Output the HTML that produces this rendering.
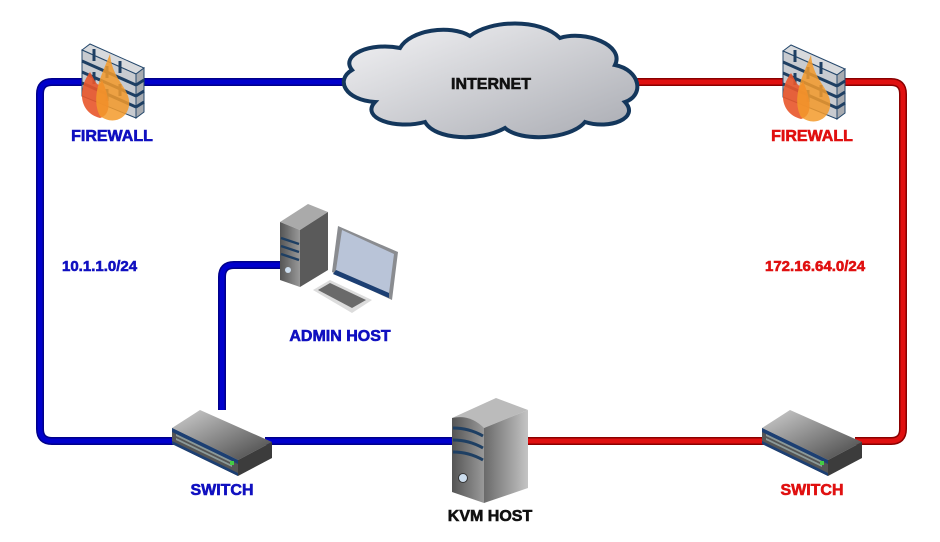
<!DOCTYPE html>
<html><head><meta charset="utf-8"><style>
html,body{margin:0;padding:0;background:#fff;}
svg{display:block;}
text{font-family:"Liberation Sans",sans-serif;font-weight:bold;stroke-width:0.6;}
</style></head><body>
<svg width="940" height="542" viewBox="0 0 940 542" xmlns="http://www.w3.org/2000/svg">
<defs>
<linearGradient id="cg" x1="0" y1="0" x2="1" y2="1"><stop offset="0" stop-color="#f4f4f6"/><stop offset="1" stop-color="#a9abb2"/></linearGradient>
<linearGradient id="sg" x1="0" y1="0" x2="1" y2="0"><stop offset="0" stop-color="#6a6a6a"/><stop offset="1" stop-color="#c4c4c4"/></linearGradient>
<linearGradient id="fg" x1="0" y1="0" x2="1" y2="0"><stop offset="0" stop-color="#555"/><stop offset="1" stop-color="#999"/></linearGradient>
<linearGradient id="tg" x1="0" y1="0" x2="1" y2="1"><stop offset="0" stop-color="#d0d0d0"/><stop offset="1" stop-color="#444"/></linearGradient>
<g id="fw">
  <polygon points="2,8 10,2 64,26 56,32" fill="#d8dadd" stroke="#24476b" stroke-width="1"/>
  <polygon points="2,8 56,32 56,76 2,54" fill="#c8cbd0" stroke="#24476b" stroke-width="1"/>
  <polygon points="56,32 64,26 64,70 56,76" fill="#a8abb0" stroke="#24476b" stroke-width="1"/>
  <g stroke="#1e3f63" stroke-width="3" fill="none">
    <path d="M2,19 L56,43"/><path d="M2,30 L56,54"/><path d="M2,41 L56,65"/>
    <path d="M14,7 v12 M40,19 v12 M27,24 v12 M14,30 v12 M40,42 v12 M27,47 v12"/>
    <path d="M56,43 l8,-5 M56,54 l8,-5 M56,65 l8,-5"/>
  </g>
  <path d="M10,30 C-2,46 -2,70 20,76 C34,72 28,52 22,38 C18,48 16,40 10,30Z" fill="#e8552a" opacity="0.9"/>
  <path d="M30,12 C22,32 10,55 20,74 C36,86 54,72 48,54 C44,42 32,34 30,12Z" fill="#f39a2a" opacity="0.85"/>
</g>
<g id="sw">
  <polygon points="0,18 28,0 100,32 66,50" fill="url(#tg)"/>
  <polygon points="0,18 66,50 66,66 0,34" fill="#555"/>
  <polygon points="0,18 66,50 66,54 0,22" fill="#1c3f73"/>
  <polygon points="0,31 66,63 66,66 0,34" fill="#1c3f73"/>
  <polygon points="66,50 100,32 100,48 66,66" fill="#3c3c3c"/>
  <g fill="#9aa" opacity="0.8">
    <path d="M4,24 l56,27 v2 l-56,-27Z M4,28 l56,27 v2 l-56,-27Z"/>
  </g>
  <rect x="58" y="51" width="4" height="4" fill="#4c4"/>
</g>
</defs>

<g fill="none" stroke-linejoin="round">
  <path d="M345,82 H52 Q40,82 40,94 V429 Q40,441 52,441 H175" stroke="#00008a" stroke-width="8"/>
  <path d="M345,82 H52 Q40,82 40,94 V429 Q40,441 52,441 H175" stroke="#0000cc" stroke-width="5"/>
  <path d="M265,441 H455" stroke="#00008a" stroke-width="8"/><path d="M265,441 H455" stroke="#0000cc" stroke-width="5"/>
  <path d="M222,410 V277 Q222,265 234,265 H282" stroke="#00008a" stroke-width="8"/>
  <path d="M222,410 V277 Q222,265 234,265 H282" stroke="#0000cc" stroke-width="5"/>
  <path d="M635,82 H891 Q903,82 903,94 V429 Q903,441 891,441 H855" stroke="#8a0000" stroke-width="8"/>
  <path d="M635,82 H891 Q903,82 903,94 V429 Q903,441 891,441 H855" stroke="#e01010" stroke-width="5"/>
  <path d="M525,441 H765" stroke="#8a0000" stroke-width="8"/><path d="M525,441 H765" stroke="#e01010" stroke-width="5"/>
</g>

<path d="M352,70 C340,55 370,42 400,48 C410,30 450,24 470,36 C490,20 540,18 560,38 C585,30 625,45 615,65 C640,70 645,95 625,102 C640,118 610,130 585,122 C570,140 520,142 505,128 C480,142 435,140 425,122 C395,130 360,118 375,102 C345,100 335,80 352,70Z" fill="url(#cg)" stroke="#14375c" stroke-width="4"/>
<text x="491" y="89" font-size="16" text-anchor="middle" fill="#111" stroke="#111">INTERNET</text>

<use href="#fw" x="80" y="42"/>
<use href="#fw" x="781" y="43"/>
<text x="112" y="141" font-size="16" text-anchor="middle" fill="#1010c0" stroke="#1010c0">FIREWALL</text>
<text x="812" y="141" font-size="16" text-anchor="middle" fill="#e01010" stroke="#e01010">FIREWALL</text>

<text x="62" y="271" font-size="15" fill="#1010c0" stroke="#1010c0">10.1.1.0/24</text>
<text x="765" y="271" font-size="15" fill="#e01010" stroke="#e01010">172.16.64.0/24</text>

<polygon points="280,222 308,204 328,212 300,230" fill="#aaa"/>
<polygon points="280,222 300,230 300,287 280,280" fill="url(#fg)"/>
<polygon points="300,230 328,212 328,270 300,287" fill="#5a5a5a"/>
<g stroke="#1e3f63" stroke-width="2.5" fill="none"><path d="M281,238 l18,6 M281,246 l18,6 M281,254 l18,6"/></g>
<circle cx="288" cy="270" r="3" fill="#cde"/>
<polygon points="338,226 398,252 392,300 332,272" fill="#8a8c90"/>
<polygon points="342,230 394,254 389,293 336,270" fill="#b9c4d8"/>
<polygon points="336,270 389,293 389,298 333,274" fill="#1c3f73"/>
<polygon points="313,290 330,280 372,300 352,313" fill="#dcdcdc"/>
<polygon points="318,290 330,283 366,300 352,308" fill="#6a6a6a"/>
<text x="340" y="341" font-size="16" text-anchor="middle" fill="#1010c0" stroke="#1010c0">ADMIN HOST</text>

<use href="#sw" x="172" y="410"/>
<use href="#sw" x="762" y="410"/>
<text x="222" y="495" font-size="16" text-anchor="middle" fill="#1010c0" stroke="#1010c0">SWITCH</text>
<text x="812" y="495" font-size="16" text-anchor="middle" fill="#e01010" stroke="#e01010">SWITCH</text>

<polygon points="452,418 496,398 528,410 484,428" fill="#bbb"/>
<path d="M452,418 Q470,414 484,428 V503 L452,492Z" fill="url(#fg)"/>
<polygon points="484,428 528,410 528,488 484,503" fill="url(#sg)"/>
<g stroke="#1e3f63" stroke-width="3" fill="none"><path d="M453,428 q16,0 30,8 M453,440 q16,0 30,8 M453,452 q16,0 30,8"/></g>
<circle cx="463" cy="478" r="4.5" fill="#cde" stroke="#333"/>
<text x="490" y="521" font-size="16" text-anchor="middle" fill="#111" stroke="#111">KVM HOST</text>
</svg>
</body></html>
